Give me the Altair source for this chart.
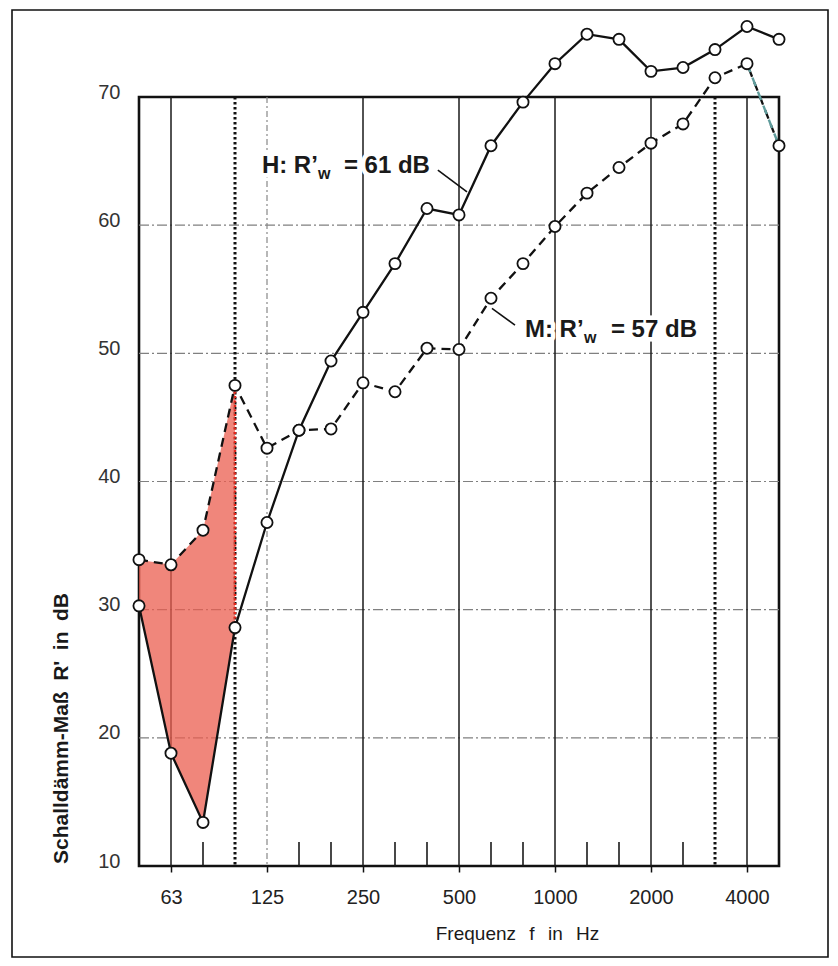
import altair as alt
import pandas as pd

# third-octave band centre frequencies (Hz)
freqs = ["50", "63", "80", "100", "125", "160", "200", "250", "315", "400", "500",
         "630", "800", "1000", "1250", "1600", "2000", "2500", "3150", "4000", "5000"]
# H curve (solid) and M curve (dashed), R' in dB
H_vals = [30.3, 18.8, 13.4, 28.6, 36.8, 44.0, 49.4, 53.2, 57.0, 61.3, 60.8,
          66.2, 69.6, 72.6, 74.9, 74.5, 72.0, 72.3, 73.7, 75.5, 74.5]
M_vals = [33.9, 33.5, 36.2, 47.5, 42.6, 44.0, 44.1, 47.7, 47.0, 50.4, 50.3,
          54.3, 57.0, 59.9, 62.5, 64.5, 66.4, 67.9, 71.5, 72.6, 66.2]

x_label_freqs = ["63", "125", "250", "500", "1000", "2000", "4000"]
y_ticks = [10, 20, 30, 40, 50, 60, 70]
h_grid = [20, 30, 40, 50, 60]
v_solid = ["63", "250", "500", "1000", "2000", "4000"]
v_dotted = ["100", "3150"]
v_light = ["125"]
v_short = ["80", "160", "200", "315", "400", "630", "800", "1250", "1600", "2500"]
fill_band = ["50", "63", "80", "100"]

# annotations (band-index position, dB value)
lab_names = ["H", "M"]
lab_x = [3.84, 12.06]
lab_y = [64.6, 51.8]
lab_head = ["H: R\u2019", "M: R\u2019"]
lab_tail = ["= 61 dB", "= 57 dB"]
lead_x1 = [9.34, 11.03]
lead_y1 = [64.3, 53.5]
lead_x2 = [10.25, 11.75]
lead_y2 = [62.6, 52.2]

idx = {f: i for i, f in enumerate(freqs)}
df = pd.DataFrame({"i": list(range(len(freqs))), "f": freqs, "H": H_vals, "M": M_vals})

W, HT = 640, 769
FONT = "Liberation Sans"
xs = alt.Scale(domain=[0, len(freqs) - 1], nice=False, zero=False)
ys = alt.Scale(domain=[10, 70], nice=False, zero=False)

label_arr = "[" + ",".join("'%s'" % f for f in freqs) + "]"

x_axis = alt.Axis(
    values=[idx[f] for f in x_label_freqs],
    labelExpr=label_arr + "[datum.value]",
    domain=False, grid=False, ticks=True, tickSize=6, tickColor="#111", tickWidth=1.5,
    labelFont=FONT, labelFontSize=20, labelColor="#222", labelPadding=15,
    title="Frequenz\u2002\u2009f\u2002\u2009in\u2002\u2009Hz",
    titleFont=FONT, titleFontSize=19, titleFontWeight="normal", titleColor="#1a1a1a",
    titleX=378, titleY=67, titleBaseline="middle", titleAlign="center",
)
y_axis = alt.Axis(
    values=y_ticks, domain=False, grid=False, ticks=False,
    labelFont=FONT, labelFontSize=20, labelColor="#333", labelPadding=19,
    labelBaseline="middle", labelOffset=-5,
    title="Schalldämm-Maß\u2002R'\u2002in\u2002dB",
    titleFont=FONT, titleFontSize=21, titleFontWeight="bold", titleColor="#1a1a1a",
    titleX=-78, titleY=631, titleAngle=270, titleAlign="center", titleBaseline="middle",
)

def X(field):
    return alt.X(field, type="quantitative", scale=xs, axis=x_axis)

def Y(field):
    return alt.Y(field, type="quantitative", scale=ys, axis=y_axis)

frame = alt.Chart(pd.DataFrame({"k": [0]})).mark_rect(
    filled=False, stroke="#111", strokeWidth=1.6
).encode(x=alt.value(-127), x2=alt.value(689), y=alt.value(-87), y2=alt.value(860))

hgrid = alt.Chart(pd.DataFrame({"v": h_grid})).mark_rule(
    color="#808080", strokeWidth=1.1, strokeDash=[10, 3, 2, 3]
).encode(y=Y("v"))

vs = alt.Chart(pd.DataFrame({"i": [idx[f] for f in v_solid]})).mark_rule(
    color="#1a1a1a", strokeWidth=1.5
).encode(x=X("i"))

vd = alt.Chart(pd.DataFrame({"i": [idx[f] for f in v_dotted]})).mark_rule(
    color="#111", strokeWidth=3, strokeDash=[2.5, 2.5]
).encode(x=X("i"))

vl = alt.Chart(pd.DataFrame({"i": [idx[f] for f in v_light]})).mark_rule(
    color="#888", strokeWidth=1.2, strokeDash=[6, 3, 2, 3]
).encode(x=X("i"))

vshort = alt.Chart(pd.DataFrame({"i": [idx[f] for f in v_short]})).mark_rule(
    color="#1a1a1a", strokeWidth=1.6
).encode(x=X("i"), y=alt.value(HT), y2=alt.value(HT - 24))

fill_df = df[df["f"].isin(fill_band)]
fill = alt.Chart(fill_df).mark_area(color="#eb5e4f", opacity=0.75).encode(
    x=X("i"), y=Y("M"), y2=alt.Y2("H")
)
red_edge = alt.Chart(df[df["f"] == fill_band[-1]]).mark_rule(
    color="#e3261c", strokeWidth=2.5, strokeDash=[2, 2.5]
).encode(x=X("i"), y=Y("H"), y2=alt.Y2("M"))

lead_df = pd.DataFrame({"x1": lead_x1, "y1": lead_y1, "x2": lead_x2, "y2": lead_y2})
leaders = alt.Chart(lead_df).mark_rule(color="#111", strokeWidth=1.6).encode(
    x=X("x1"), y=Y("y1"), x2=alt.X2("x2"), y2=alt.Y2("y2")
)

line_h = alt.Chart(df).mark_line(color="#111", strokeWidth=2.3).encode(
    x=X("i"), y=Y("H")
)
line_m = alt.Chart(df).mark_line(color="#111", strokeWidth=2.3, strokeDash=[9, 6]).encode(
    x=X("i"), y=Y("M")
)
line_m_end = alt.Chart(df[df["i"] >= len(freqs) - 2]).mark_line(
    color="#5f9c9c", strokeWidth=2.4, strokeDash=[9, 6]
).encode(x=X("i"), y=Y("M"))

pt_style = dict(shape="circle", filled=True, fill="white", stroke="#111",
                strokeWidth=1.8, size=125, opacity=1)
pts_h = alt.Chart(df).mark_point(**pt_style).encode(x=X("i"), y=Y("H"))
pts_m = alt.Chart(df).mark_point(**pt_style).encode(x=X("i"), y=Y("M"))

lab_df = pd.DataFrame({"x": lab_x, "y": lab_y, "head": lab_head, "tail": lab_tail,
                       "n": lab_names})

def text_layer(sub_df, field, size, dx, dy, halo, const=None):
    kw = dict(font=FONT, fontSize=size, fontWeight="bold", align="left",
              baseline="middle", dx=dx, dy=dy, color="#1a1a1a")
    if halo:
        kw.update(stroke="white", strokeWidth=9, strokeJoin="round", color="white")
    enc = dict(x=X("x"), y=Y("y"))
    enc["text"] = alt.value(const) if const is not None else alt.Text(field + ":N")
    return alt.Chart(sub_df).mark_text(**kw).encode(**enc)

w_dx = {"H": 56, "M": 59}
t_dx = {"H": 82, "M": 86}
labels = []
for halo in (True, False):
    for n in lab_names:
        sdf = lab_df[lab_df["n"] == n]
        labels.append(text_layer(sdf, "head", 24, 0, 0, halo))
        labels.append(text_layer(sdf, None, 16, w_dx[n], 8, halo, const="w"))
        labels.append(text_layer(sdf, "tail", 24, t_dx[n], 0, halo))

chart = alt.layer(
    frame, hgrid, vl, vs, vd, vshort, fill, red_edge, leaders,
    line_h, line_m, line_m_end, pts_h, pts_m, *labels
).properties(
    width=W, height=HT,
    background="white",
    autosize=alt.AutoSizeParams(type="none"),
    padding={"left": 131, "top": 89, "right": 51, "bottom": 92},
).configure_view(
    stroke="#111", strokeWidth=2.6
)

chart.save("out.html", embed_options={"renderer": "svg", "actions": False})
